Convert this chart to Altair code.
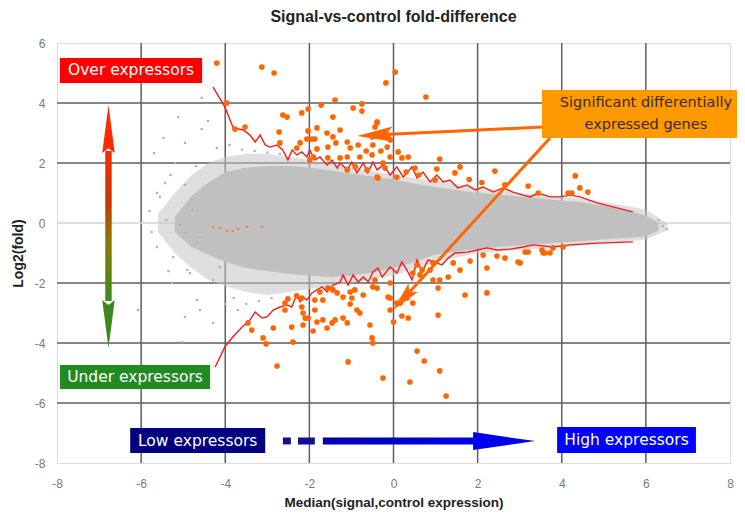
import altair as alt
import pandas as pd

# ---------------- data ----------------
x_ticks = [-8, -6, -4, -2, 0, 2, 4, 6, 8]
y_ticks = [-8, -6, -4, -2, 0, 2, 4, 6]
grid_x = [-6, -4, -2, 0, 2, 4, 6]
grid_y = [-6, -4, -2, 2, 4]

# dense core of the grey cloud (upper / lower envelope)
core_x = [-5.2, -4.8, -4.5, -4.0, -3.5, -3.0, -2.5, -2.0, -1.5, -1.0, -0.5, 0.0, 0.5,
          1.0, 1.5, 2.0, 2.5, 3.0, 3.5, 4.0, 4.5, 5.0, 5.5, 6.0, 6.3]
core_hi = [0.2, 0.9, 1.25, 1.7, 1.85, 1.9, 1.9, 1.85, 1.75, 1.65, 1.55, 1.45, 1.32,
           1.2, 1.1, 1.0, 0.95, 0.88, 0.82, 0.75, 0.68, 0.58, 0.45, 0.25, 0.0]
core_lo = [-0.3, -0.8, -1.0, -1.3, -1.5, -1.6, -1.7, -1.75, -1.8, -1.75, -1.65, -1.5, -1.3,
           -1.05, -0.95, -0.85, -0.8, -0.75, -0.7, -0.65, -0.6, -0.55, -0.5, -0.45, -0.25]

# sparse halo of the grey cloud
halo_x = [-5.6, -5.2, -4.8, -4.4, -4.0, -3.5, -3.0, -2.5, -2.0, -1.0, 0.0, 1.0, 2.0, 3.0, 4.0, 5.0, 6.0, 6.5]
halo_hi = [0.3, 1.0, 1.6, 2.0, 2.2, 2.3, 2.3, 2.2, 2.1, 1.85, 1.6, 1.4, 1.2, 1.0, 0.9, 0.7, 0.45, 0.0]
halo_lo = [-0.3, -1.0, -1.5, -1.9, -2.1, -2.3, -2.4, -2.3, -2.2, -2.0, -1.75, -1.3, -1.0, -0.9, -0.8, -0.7, -0.55, -0.25]

# isolated grey genes
grey_points = [(-4.56, 4.17), (-5.12, 3.53), (-4.41, 3.4), (-4.56, 3.13), (-5.47, 2.83), (-5.69, 2.33),
               (-4.96, 2.67), (-5.19, 2.0), (-5.43, 1.33), (-4.96, 1.27), (-5.62, 1.0), (-5.55, 0.87),
               (-4.8, 0.43), (-5.08, -0.07), (-4.96, -0.33), (-5.62, -0.8), (-5.24, -1.13), (-4.6, -0.47),
               (-4.9, -1.57), (-5.27, -2.0), (-4.67, -2.57), (-4.6, -2.9), (-4.96, -3.13), (-6.07, -2.9),
               (-5.03, -3.97), (-4.29, -3.33), (-4.84, -1.67), (-4.29, -1.9), (-4.13, -1.47),
               (-3.9, 2.6), (-3.6, 2.45), (-4.2, 2.5), (-3.3, 2.4), (-3.0, 2.35), (-2.7, 2.3),
               (-3.8, -2.5), (-3.5, -2.7), (-3.2, -2.6), (-2.9, -2.5), (-3.7, -2.9), (-4.0, -2.7),
               (-5.8, 0.4), (-5.75, -0.3), (-5.4, 0.1), (-5.3, 1.6), (-5.35, -1.6), (-4.7, 1.9),
               (6.4, -0.1), (6.5, -0.2), (6.3, 0.1)]

# significance thresholds (red curves)
up_thr_x = [-4.29, -4.01, -3.81, -3.57, -3.41, -3.29, -3.17, -3.05, -2.94, -2.77, -2.63, -2.51, -2.41,
            -2.30, -2.18, -2.06, -1.99, -1.87, -1.75, -1.58, -1.46, -1.34, -1.27, -1.10, -0.99, -0.87,
            -0.72, -0.61, -0.49, -0.39, -0.25, -0.08, 0.08, 0.23, 0.44, 0.56, 0.70, 0.87, 1.03, 1.18,
            1.34, 1.53, 1.75, 1.94, 2.13, 2.37, 2.60, 2.84, 3.08, 3.25, 3.44, 3.72, 3.96, 4.20, 4.43,
            4.84, 5.69]
up_thr_y = [4.53, 3.87, 3.17, 3.10, 2.93, 2.70, 2.93, 2.60, 2.53, 2.60, 2.43, 2.10, 2.43,
            2.27, 2.37, 2.20, 2.43, 2.10, 2.20, 1.93, 2.10, 1.83, 2.00, 1.77, 2.03, 1.67,
            2.00, 1.67, 2.03, 1.77, 1.93, 1.60, 1.87, 1.53, 1.87, 1.50, 1.70, 1.37, 1.60, 1.37,
            1.43, 1.17, 1.27, 1.10, 1.20, 1.03, 1.17, 1.03, 0.93, 0.87, 1.00, 0.87, 0.87, 0.93, 0.87,
            0.67, 0.37]
lo_thr_x = [-4.24, -4.01, -3.82, -3.60, -3.41, -3.29, -3.13, -3.01, -2.86, -2.70, -2.53, -2.42, -2.30,
            -2.22, -2.15, -2.06, -1.94, -1.82, -1.70, -1.58, -1.44, -1.27, -1.20, -1.08, -0.96, -0.84,
            -0.72, -0.60, -0.49, -0.37, -0.27, -0.08, 0.08, 0.20, 0.32, 0.44, 0.56, 0.68, 0.82, 1.03,
            1.15, 1.30, 1.46, 1.75, 1.99, 2.22, 2.46, 2.77, 3.08, 3.32, 3.79, 4.20, 4.84, 5.69]
lo_thr_y = [-4.80, -4.13, -3.80, -3.47, -3.23, -2.97, -3.17, -3.13, -2.90, -2.80, -2.73, -2.80, -2.40,
            -2.63, -2.47, -2.57, -2.33, -2.23, -2.13, -2.30, -2.07, -1.97, -1.73, -2.07, -1.73, -1.97,
            -1.80, -1.97, -1.63, -1.50, -1.80, -1.47, -1.67, -1.30, -1.57, -1.90, -1.23, -1.63, -1.23, -1.33,
            -1.40, -1.17, -1.00, -0.97, -0.90, -0.83, -0.90, -0.87, -0.80, -0.73, -0.80, -0.73, -0.67, -0.63]

# significant differentially expressed genes (orange)
sig_up = [(-4.2, 5.33), (-3.96, 4.0), (-3.77, 3.13), (-3.53, 3.2), (-3.13, 5.2), (-2.84, 5.0), (-2.72, 3.03),
          (-2.63, 3.6), (-2.53, 3.53), (-2.7, 2.67), (-2.22, 2.67), (-2.18, 3.67), (-2.03, 3.8), (-1.72, 3.93),
          (-1.39, 4.1), (-0.96, 3.83), (-0.75, 3.97), (-0.75, 3.73), (-1.44, 3.53), (-1.82, 3.17), (-2.03, 3.07),
          (-1.58, 3.0), (-1.27, 3.1), (-2.06, 2.8), (-1.94, 2.8), (-1.87, 2.8), (-1.44, 2.87), (-1.37, 2.67),
          (-1.82, 2.47), (-1.56, 2.53), (-1.1, 2.7), (-1.03, 2.5), (-0.84, 2.6), (-0.49, 2.6), (-0.39, 3.33),
          (-0.51, 2.87), (-0.51, 2.27), (-0.8, 2.2), (-1.1, 2.2), (-1.27, 2.17), (-1.56, 2.17), (-1.99, 2.1),
          (-1.1, 1.77), (-0.91, 1.87), (-0.63, 1.77), (-0.39, 1.53), (-0.18, 4.67), (0.04, 5.03), (0.77, 4.2),
          (-0.39, 3.37), (-0.44, 3.2), (-0.49, 2.93), (-0.13, 2.93), (-0.08, 2.77), (-0.15, 2.53), (0.11, 2.37),
          (0.2, 2.17), (0.35, 2.2), (-0.08, 2.2), (-0.25, 2.0), (-0.2, 1.83), (1.1, 2.13), (1.58, 1.87),
          (1.03, 1.8), (1.46, 1.67), (2.41, 1.73), (3.2, 1.23), (0.51, 1.83), (-0.37, 1.5), (0.08, 1.53),
          (0.99, 1.43), (2.65, 1.27), (3.44, 1.0), (4.32, 1.57), (4.43, 1.17), (4.24, 1.0), (4.62, 1.03),
          (4.15, 1.0), (-2.3, 2.5), (-0.65, 2.4), (-0.3, 2.4), (0.3, 1.7), (0.6, 1.6), (1.8, 1.45),
          (2.1, 1.35), (-1.9, 2.2)]
sig_down = [(-3.46, -3.33), (-3.37, -3.57), (-3.1, -3.83), (-3.03, -4.03), (-2.86, -3.5), (-2.77, -4.77),
            (-2.42, -3.47), (-2.39, -3.97), (-2.58, -2.67), (-2.51, -2.53), (-2.18, -2.8), (-2.15, -3.0),
            (-2.1, -3.17), (-2.03, -3.17), (-2.15, -3.4), (-1.87, -2.9), (-1.82, -3.3), (-1.68, -3.23),
            (-1.91, -3.6), (-1.58, -3.5), (-1.46, -3.33), (-1.39, -3.23), (-1.2, -3.17), (-1.1, -3.33),
            (-1.08, -4.63), (-1.87, -2.57), (-1.68, -2.57), (-1.75, -2.3), (-1.56, -2.17), (-1.44, -2.23),
            (-1.34, -2.33), (-1.2, -2.47), (-0.99, -2.5), (-1.03, -2.7), (-0.87, -2.9), (-0.8, -3.0),
            (-0.92, -2.23), (-0.72, -2.4), (-0.56, -3.4), (-0.51, -3.83), (-0.49, -4.0), (-0.49, -2.13),
            (-0.44, -1.9), (-1.03, -2.3), (-2.18, -2.5), (-2.3, -2.43), (-2.58, -2.9), (-0.25, -5.17),
            (0.39, -5.3), (0.56, -4.27), (0.73, -4.6), (1.1, -4.93), (1.25, -5.77), (0.35, -3.17),
            (-0.08, -2.9), (-0.13, -2.47), (0.16, -2.67), (0.46, -2.67), (1.06, -3.07), (1.06, -2.17),
            (1.7, -2.4), (2.22, -2.33), (1.42, -1.33), (1.3, -1.8), (1.58, -1.57), (1.1, -1.9), (0.94, -1.33),
            (0.68, -1.57), (-0.08, -2.5), (0.08, -2.67), (0.2, -2.57), (0.32, -2.5), (2.22, -1.5),
            (1.82, -1.27), (0.94, -1.9), (3.01, -1.33), (2.65, -1.17), (2.46, -1.1), (2.13, -1.07),
            (3.2, -0.97), (3.56, -1.0), (-0.08, -2.0), (-0.39, -2.17), (0.46, -1.67), (0.63, -1.73),
            (0.87, -1.57), (0.56, -1.4), (2.96, -1.3), (3.13, -0.97), (3.53, -0.9), (3.6, -1.0), (3.72, -1.0),
            (3.79, -0.83), (4.03, -0.8), (0.2, -3.1), (0.0, -3.3)]
# faint orange specks near zero on the left
speck_x = [-4.29, -4.12, -3.96, -3.82, -3.7, -3.48, -3.13]
speck_y = [-0.13, -0.17, -0.27, -0.27, -0.2, -0.13, -0.13]

# annotation boxes
box_text = ["Over expressors", "Under expressors", "Low expressors", "High expressors"]
box_x1 = [-7.93, -7.93, -6.26, 3.89]
box_x2 = [-4.55, -4.36, -3.05, 7.19]
box_y1 = [5.5, -4.73, -6.83, -6.8]
box_y2 = [4.67, -5.53, -7.67, -7.67]
box_fill = ["#ff0000", "#218a21", "#000080", "#0000ff"]

# ---------------- chart ----------------
XS = alt.Scale(domain=[-8, 8], nice=False, zero=False)
YS = alt.Scale(domain=[-8, 6], nice=False, zero=False)
X_AXIS = alt.Axis(values=x_ticks, grid=False, ticks=False, domain=False, labelExpr="'' + datum.value",
                  labelFlush=False, labelOverlap=False, labelColor="#7a7a7a", labelFont="Liberation Sans",
                  labelFontSize=12, labelPadding=15, title="Median(signal,control expression)",
                  titleFont="Liberation Sans", titleFontSize=13.5, titleFontWeight="bold",
                  titleColor="#222222", titlePadding=6)
Y_AXIS = alt.Axis(values=y_ticks, grid=False, ticks=False, domain=False, labelExpr="'' + datum.value",
                  labelFlush=False, labelOverlap=False, labelColor="#7a7a7a", labelFont="Liberation Sans",
                  labelFontSize=12, labelPadding=12, title="Log2(fold)",
                  titleFont="Liberation Sans", titleFontSize=14, titleFontWeight="bold",
                  titleColor="#222222", titlePadding=9)


def ex(f="x"):
    return alt.X(f"{f}:Q", scale=XS, axis=X_AXIS)


def ey(f="y"):
    return alt.Y(f"{f}:Q", scale=YS, axis=Y_AXIS)


layers = []
layers.append(alt.Chart(pd.DataFrame({"v": grid_x})).mark_rule(color="#5e5e5e", strokeWidth=1.5)
              .encode(x=ex("v")))
layers.append(alt.Chart(pd.DataFrame({"v": grid_y})).mark_rule(color="#5e5e5e", strokeWidth=1.5)
              .encode(y=ey("v")))
layers.append(alt.Chart(pd.DataFrame({"v": [0]})).mark_rule(color="#d4d4d4", strokeWidth=1.5)
              .encode(y=ey("v")))

halo = pd.DataFrame({"x": halo_x, "hi": halo_hi, "lo": halo_lo})
layers.append(alt.Chart(halo).mark_area(color="#c4c4c4", opacity=0.55)
              .encode(x=ex(), y=ey("hi"), y2="lo"))
core = pd.DataFrame({"x": core_x, "hi": core_hi, "lo": core_lo})
layers.append(alt.Chart(core).mark_area(color="#c0c0c0", opacity=1)
              .encode(x=ex(), y=ey("hi"), y2="lo"))
gp = pd.DataFrame(grey_points, columns=["x", "y"])
layers.append(alt.Chart(gp).mark_square(size=5, color="#b0b0b0", opacity=1).encode(x=ex(), y=ey()))

thr = pd.concat([
    pd.DataFrame({"x": up_thr_x, "y": up_thr_y, "s": "up", "i": range(len(up_thr_x))}),
    pd.DataFrame({"x": lo_thr_x, "y": lo_thr_y, "s": "lo", "i": range(len(lo_thr_x))}),
])
layers.append(alt.Chart(thr).mark_line(color="#ff1a1a", strokeWidth=1.4)
              .encode(x=ex(), y=ey(), detail="s:N", order="i:Q"))

sp = pd.DataFrame({"x": speck_x, "y": speck_y})
layers.append(alt.Chart(sp).mark_circle(size=6, color="#ff7a1a", opacity=1).encode(x=ex(), y=ey()))
sig = pd.DataFrame(sig_up + sig_down, columns=["x", "y"])
layers.append(alt.Chart(sig).mark_circle(size=32, color="#ff6600", opacity=1).encode(x=ex(), y=ey()))

# orange callout arrows
arr = pd.DataFrame({"x": [3.53, 3.72], "y": [3.2, 2.83], "x2": [-0.44, 0.23], "y2": [2.93, -2.53]})
layers.append(alt.Chart(arr).mark_rule(color="#ff6600", strokeWidth=3)
              .encode(x=ex(), y=ey(), x2="x2", y2="y2"))
HEAD_UP = "M0,-1L0.42,1L0,0.6L-0.42,1Z"
layers.append(alt.Chart(pd.DataFrame({"x": [-0.44], "y": [2.93]}))
              .mark_point(shape=HEAD_UP, filled=True, size=1296, angle=267, color="#ff6600",
                          opacity=1, strokeWidth=0).encode(x=ex(), y=ey()))
layers.append(alt.Chart(pd.DataFrame({"x": [0.23], "y": [-2.53]}))
              .mark_point(shape=HEAD_UP, filled=True, size=900, angle=222, color="#ff6600",
                          opacity=1, strokeWidth=0).encode(x=ex(), y=ey()))

# vertical red->green arrow
grad_v = alt.LinearGradient(gradient="linear", x1=0, y1=0, x2=0, y2=1,
                            stops=[alt.GradientStop(color="#ff2a00", offset=0),
                                   alt.GradientStop(color="#c23a00", offset=0.35),
                                   alt.GradientStop(color="#8a7a00", offset=0.6),
                                   alt.GradientStop(color="#3c8a1e", offset=1)])
layers.append(alt.Chart(pd.DataFrame({"x": [-6.853], "x2": [-6.70], "y": [2.4], "y2": [-2.6]}))
              .mark_rect(color=grad_v).encode(x=ex(), x2="x2", y=ey(), y2="y2"))
layers.append(alt.Chart(pd.DataFrame({"x": [-6.776], "y": [3.13]}))
              .mark_point(shape="M0,-1L0.26,1L0,0.8L-0.26,1Z", filled=True, size=2304, color="#ff2a00",
                          opacity=1, strokeWidth=0).encode(x=ex(), y=ey()))
layers.append(alt.Chart(pd.DataFrame({"x": [-6.776], "y": [-3.37]}))
              .mark_point(shape="M0,1L0.26,-1L0,-0.8L-0.26,-1Z", filled=True, size=2304, color="#3c8a1e",
                          opacity=1, strokeWidth=0).encode(x=ex(), y=ey()))

# horizontal dashed blue arrow
grad_h = alt.LinearGradient(gradient="linear", x1=0, y1=0, x2=1, y2=0,
                            stops=[alt.GradientStop(color="#0000a8", offset=0),
                                   alt.GradientStop(color="#0000f0", offset=1)])
layers.append(alt.Chart(pd.DataFrame({"x": [-2.63, -2.27], "x2": [-2.44, -1.87],
                                      "y": [-7.15, -7.15], "y2": [-7.38, -7.38]}))
              .mark_rect(color="#101090").encode(x=ex(), x2="x2", y=ey(), y2="y2"))
layers.append(alt.Chart(pd.DataFrame({"x": [-1.68], "x2": [1.95], "y": [-7.15], "y2": [-7.38]}))
              .mark_rect(color=grad_h).encode(x=ex(), x2="x2", y=ey(), y2="y2"))
layers.append(alt.Chart(pd.DataFrame({"x": [2.63], "y": [-7.27]}))
              .mark_point(shape="M1,0L-1,-0.29L-1,0.29Z", filled=True, size=3844, color="#0000f0",
                          opacity=1, strokeWidth=0).encode(x=ex(), y=ey()))

# label boxes
boxes = pd.DataFrame({"t": box_text, "x": box_x1, "x2": box_x2, "y": box_y1, "y2": box_y2, "c": box_fill})
boxes["cx"] = (boxes["x"] + boxes["x2"]) / 2
boxes["cy"] = (boxes["y"] + boxes["y2"]) / 2
layers.append(alt.Chart(boxes).mark_rect()
              .encode(x=ex(), x2="x2", y=ey(), y2="y2", color=alt.Color("c:N", scale=None)))
layers.append(alt.Chart(boxes).mark_text(font="DejaVu Sans", fontSize=15.5, color="white",
                                         align="center", baseline="middle")
              .encode(x=ex("cx"), y=ey("cy"), text="t:N"))

sigbox = pd.DataFrame({"x": [3.53], "x2": [8.4], "y": [4.43], "y2": [2.83]})
layers.append(alt.Chart(sigbox).mark_rect(color="#ff9900")
              .encode(x=ex(), x2="x2", y=ey(), y2="y2"))
sigtext = pd.DataFrame({"x": [6.0, 6.0], "y": [4.0, 3.27],
                        "t": ["Significant differentially", "expressed genes"]})
layers.append(alt.Chart(sigtext).mark_text(font="DejaVu Sans", fontSize=14.5, color="#3a2a0a",
                                           align="center", baseline="middle")
              .encode(x=ex(), y=ey(), text="t:N"))

chart = alt.layer(*layers).properties(
    width=673, height=420,
    title=alt.TitleParams("Signal-vs-control fold-difference", font="Liberation Sans", fontSize=16,
                          fontWeight="bold", color="#222222", offset=12, anchor="middle"),
    autosize=alt.AutoSizeParams(type="none"),
    padding={"left": 49, "top": 35, "right": 7, "bottom": 50},
).configure_view(stroke="#a8a8a8", strokeWidth=1.5).configure(background="white")

chart.save("out.html", embed_options={"renderer": "svg", "actions": False})
